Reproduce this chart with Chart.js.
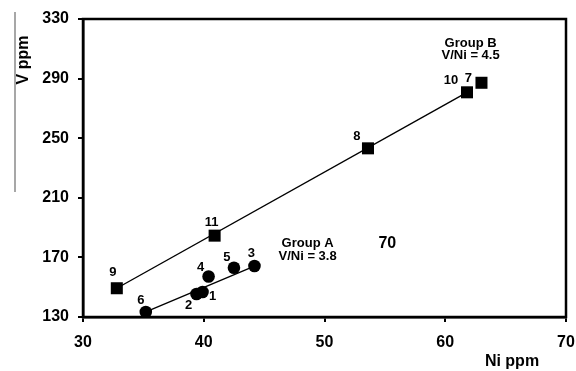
<!DOCTYPE html>
<html>
<head>
<meta charset="utf-8">
<script src="https://cdn.jsdelivr.net/npm/chart.js@4.4.1/dist/chart.umd.min.js"></script>
<style>
  html, body { margin: 0; padding: 0; background: #fff; }
  #wrap { width: 576px; height: 371px; position: relative; }
</style>
</head>
<body>
<div id="wrap"><canvas id="chart"></canvas></div>
<script>
// ---------------------------------------------------------------------------
//  Data (Ni and V in ppm, sample numbers as labels)
// ---------------------------------------------------------------------------

const groupALabels = ['6', '2', '1', '4', '5', '3'];
const groupANi     = [35.2, 39.4, 39.9, 40.4, 42.5, 44.2];
const groupAV      = [133.4, 145.4, 146.8, 157.2, 163.1, 164.2];

const groupBLabels = ['9', '11', '8', '10', '7'];
const groupBNi     = [32.8, 40.9, 53.6, 61.8, 63.0];
const groupBV      = [149.3, 184.6, 243.2, 280.8, 287.2];

// trend line end points
const trendANi = [35.2, 44.2];
const trendAV  = [133.4, 164.2];
const trendBNi = [32.8, 61.8];
const trendBV  = [149.3, 280.8];

const xTicks = [30, 40, 50, 60, 70];
const yTicks = [130, 170, 210, 250, 290, 330];

// text notes placed in data units
const notes = [
  { text: 'Group A',    x: 48.6, y: 179.3, size: 13 },
  { text: 'V/Ni = 3.8', x: 48.6, y: 170.8, size: 13 },
  { text: 'Group B',    x: 62.1, y: 313.5, size: 13 },
  { text: 'V/Ni = 4.5', x: 62.1, y: 305.3, size: 13 },
  { text: '70',         x: 55.2, y: 179.0, size: 16 },
];

// pixel offsets of each sample number from its marker
const labelOffA = [[-5, -12], [-8, 11], [10, 4], [-8, -9], [-7, -10], [-3, -13]];
const labelOffB = [[-4, -16], [-3, -13], [-11, -12], [-16, -12], [-13, -4]];

const FONT = '"Liberation Sans", Arial, sans-serif';

const toXY = (xs, ys) => xs.map((x, i) => ({ x, y: ys[i] }));

// ---------------------------------------------------------------------------
//  Extra drawing: frame, sample numbers, notes, axis titles
// ---------------------------------------------------------------------------

const decorPlugin = {
  id: 'decor',
  afterDraw(chart) {
    const { ctx, chartArea: a, scales: { x, y } } = chart;
    ctx.save();

    // frame
    ctx.strokeStyle = '#000';
    ctx.lineWidth = 2.5;
    ctx.strokeRect(a.left, a.top, a.right - a.left, a.bottom - a.top);

    // grey rule at the far left
    ctx.strokeStyle = '#8a8a8a';
    ctx.lineWidth = 1.5;
    ctx.beginPath();
    ctx.moveTo(15, 12);
    ctx.lineTo(15, 192);
    ctx.stroke();

    ctx.fillStyle = '#000';
    ctx.textAlign = 'center';
    ctx.textBaseline = 'middle';

    // sample numbers
    ctx.font = `bold 13px ${FONT}`;
    groupALabels.forEach((t, i) => {
      ctx.fillText(t, x.getPixelForValue(groupANi[i]) + labelOffA[i][0],
                      y.getPixelForValue(groupAV[i]) + labelOffA[i][1]);
    });
    groupBLabels.forEach((t, i) => {
      ctx.fillText(t, x.getPixelForValue(groupBNi[i]) + labelOffB[i][0],
                      y.getPixelForValue(groupBV[i]) + labelOffB[i][1]);
    });

    // notes
    notes.forEach(n => {
      ctx.font = `bold ${n.size}px ${FONT}`;
      ctx.fillText(n.text, x.getPixelForValue(n.x), y.getPixelForValue(n.y));
    });

    // axis titles
    ctx.font = `bold 16px ${FONT}`;
    ctx.fillText('Ni ppm', 512, 362);
    ctx.translate(24, 60);
    ctx.rotate(-Math.PI / 2);
    ctx.fillText('V ppm', 0, 0);

    ctx.restore();
  },
};

// ---------------------------------------------------------------------------
//  Chart
// ---------------------------------------------------------------------------

const tickFont = { family: FONT, size: 16, weight: 'bold' };
const gridOpts = { display: true, drawOnChartArea: false, drawTicks: true,
                   tickLength: 5, color: '#000', lineWidth: 2 };

new Chart(document.getElementById('chart'), {
  type: 'scatter',
  data: {
    datasets: [
      { label: 'Group A', data: toXY(groupANi, groupAV),
        pointStyle: 'circle', pointRadius: 6.3, backgroundColor: '#000',
        borderColor: '#000', borderWidth: 0, order: 1 },
      { label: 'Group B', data: toXY(groupBNi, groupBV),
        pointStyle: 'rect', pointRadius: 8.5, backgroundColor: '#000',
        borderColor: '#000', borderWidth: 0, order: 1 },
      { type: 'line', label: 'Trend A', data: toXY(trendANi, trendAV),
        borderColor: '#000', borderWidth: 1.4, pointRadius: 0, fill: false, order: 2 },
      { type: 'line', label: 'Trend B', data: toXY(trendBNi, trendBV),
        borderColor: '#000', borderWidth: 1.4, pointRadius: 0, fill: false, order: 2 },
    ],
  },
  options: {
    responsive: true, maintainAspectRatio: false, animation: false,
    layout: { padding: { left: 0, right: 10, top: 19, bottom: 0 } },
    plugins: { legend: { display: false }, tooltip: { enabled: false } },
    scales: {
      x: {
        type: 'linear', min: xTicks[0], max: xTicks[xTicks.length - 1],
        afterBuildTicks: s => { s.ticks = xTicks.map(v => ({ value: v })); },
        afterFit: s => { s.height = 54; s.paddingRight = 0; s.paddingLeft = 0; },
        ticks: { font: tickFont, color: '#000', padding: 11, maxRotation: 0 },
        grid: gridOpts,
        border: { display: true, color: '#000', width: 2.5 },
      },
      y: {
        type: 'linear', min: yTicks[0], max: yTicks[yTicks.length - 1],
        afterBuildTicks: s => { s.ticks = yTicks.map(v => ({ value: v })); },
        afterFit: s => { s.width = 83; },
        ticks: { font: tickFont, color: '#000', padding: 9 },
        grid: gridOpts,
        border: { display: true, color: '#000', width: 2.5 },
      },
    },
  },
  plugins: [decorPlugin],
});
</script>
</body>
</html>
